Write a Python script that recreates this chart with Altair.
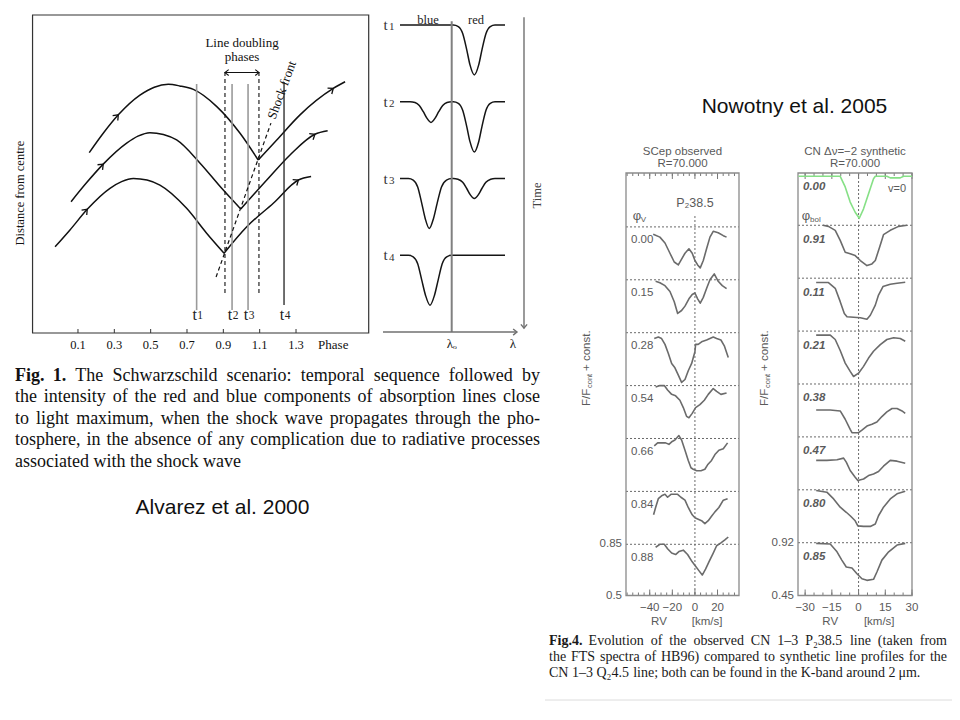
import math
import altair as alt
import pandas as pd

OFF = 8  # page margin

# ================= Alvarez et al. 2000, Fig. 1 (phase vs distance) =================
TRAJ1_ARC_PHASE = [0.162, 0.239, 0.322, 0.441, 0.520, 0.597, 0.660, 0.735, 0.864, 0.992, 1.092]
TRAJ1_ARC_DIST = [56.7, 62.8, 68.6, 74.8, 77.3, 78.2, 77.7, 76.6, 71.2, 62.8, 54.4]
TRAJ1_RISE_PHASE = [1.092, 1.194, 1.322, 1.505, 1.570]
TRAJ1_RISE_DIST = [54.4, 60.7, 68.6, 76.9, 79.0]
TRAJ2_ARC_PHASE = [0.062, 0.148, 0.239, 0.368, 0.430, 0.496, 0.570, 0.643, 0.772, 0.891, 0.996]
TRAJ2_ARC_DIST = [41.3, 47.3, 53.1, 59.7, 61.9, 63.0, 62.4, 60.7, 53.4, 45.5, 39.0]
TRAJ2_RISE_PHASE = [0.996, 1.139, 1.267, 1.404, 1.474]
TRAJ2_RISE_DIST = [39.0, 48.1, 56.0, 62.5, 63.6]
TRAJ3_ARC_PHASE = [-0.026, 0.056, 0.151, 0.276, 0.340, 0.405, 0.480, 0.551, 0.698, 0.808, 0.904]
TRAJ3_ARC_DIST = [27.1, 32.4, 38.9, 45.5, 47.6, 48.6, 48.1, 46.5, 39.2, 31.4, 25.1]
TRAJ3_RISE_PHASE = [0.904, 1.029, 1.175, 1.313, 1.383]
TRAJ3_RISE_DIST = [25.1, 33.4, 40.8, 48.1, 49.2]
ARROW_POINT_INDEX = 2      # arrow on arc at this point index
ARROW_RISE_INDEX = 3       # arrow on rise at this point index

T_PHASE = [0.753, 0.948, 1.036, 1.234]
T_NAMES = ["1", "2", "3", "4"]
T_TOP = [78.3, 78.3, 78.3, 78.9]
T_BOTTOM = [7.2, 7.2, 7.2, 8.8]
DOUBLING_PHASE = [0.909, 1.096]
DOUBLING_TOP = 82.1
DOUBLING_BOTTOM = 12.6
SHOCK_PHASE = [0.860, 1.162]
SHOCK_DIST = [17.6, 66.0]
PHASE_TICKS = [0.1, 0.3, 0.5, 0.7, 0.9, 1.1, 1.3]

# ================= line-profile sketch (wavelength offset, intensity) =================
PROFILE_START = -5.17
PROFILE_END = 5.33
LAMBDA_AXIS = [-6.87, 6.53]
T1_RED_DL = [0.16, 0.66, 1.10, 1.50, 1.83, 2.26, 2.70, 3.03, 3.43, 3.86, 4.33]
T1_RED_I = [1.00, 0.98, 0.89, 0.68, 0.48, 0.35, 0.48, 0.68, 0.89, 0.98, 1.00]
T2_BLUE_DL = [-4.17, -3.67, -3.24, -2.84, -2.50, -2.07, -1.64, -1.30, -0.90, -0.47, 0.00]
T2_BLUE_I = [1.00, 0.99, 0.95, 0.87, 0.79, 0.73, 0.79, 0.87, 0.95, 0.99, 1.00]
T2_RED_DL = [0.16, 0.66, 1.10, 1.50, 1.83, 2.26, 2.70, 3.03, 3.43, 3.86, 4.33]
T2_RED_I = [1.00, 0.98, 0.89, 0.68, 0.48, 0.345, 0.48, 0.68, 0.89, 0.98, 1.00]
T3_BLUE_DL = [-4.33, -3.85, -3.40, -3.00, -2.65, -2.24, -1.82, -1.45, -1.02, -0.52, 0.00]
T3_BLUE_I = [1.00, 0.98, 0.89, 0.68, 0.48, 0.35, 0.48, 0.68, 0.89, 0.98, 1.00]
T3_RED_DL = [0.16, 0.62, 1.10, 1.50, 1.85, 2.26, 2.67, 3.02, 3.42, 3.90, 4.33]
T3_RED_I = [1.00, 0.99, 0.95, 0.87, 0.79, 0.74, 0.79, 0.87, 0.95, 0.99, 1.00]
T4_BLUE_DL = [-4.33, -3.85, -3.40, -3.00, -2.62, -2.17, -1.72, -1.35, -0.95, -0.50, 0.00]
T4_BLUE_I = [1.00, 0.98, 0.89, 0.68, 0.48, 0.35, 0.48, 0.68, 0.89, 0.98, 1.00]

# ================= Nowotny et al. 2005, Fig. 4 =================
OBS_LABELS = ["0.00", "0.15", "0.28", "0.54", "0.66", "0.84", "0.88"]
OBS_000_RV = [-36.9, -31.0, -26.5, -22.1, -18.3, -14.7, -11.8, -8.8, -5.3, -2.4, 0.0, 2.4, 4.7, 7.4, 10.3, 13.3, 16.2, 20.6, 25.1, 28.0]
OBS_000_F = [0.80, 0.78, 0.74, 0.67, 0.61, 0.59, 0.63, 0.67, 0.70, 0.67, 0.62, 0.59, 0.57, 0.62, 0.70, 0.78, 0.82, 0.81, 0.79, 0.78]
OBS_015_RV = [-34.8, -31.0, -26.5, -22.1, -18.3, -15.3, -11.8, -8.8, -5.3, -2.4, 0.0, 2.4, 4.7, 7.4, 10.3, 13.3, 17.1, 20.6, 24.2, 28.0]
OBS_015_F = [0.84, 0.83, 0.81, 0.77, 0.70, 0.62, 0.64, 0.67, 0.72, 0.75, 0.76, 0.72, 0.69, 0.73, 0.79, 0.85, 0.89, 0.84, 0.81, 0.79]
OBS_028_RV = [-36.0, -32.4, -29.5, -26.5, -23.6, -20.6, -17.7, -14.7, -11.8, -8.8, -5.9, -2.9, 0.0, 0.6, 2.9, 6.5, 10.3, 13.3, 16.2, 19.2, 23.0, 26.0, 29.5]
OBS_028_F = [0.81, 0.82, 0.81, 0.77, 0.71, 0.64, 0.61, 0.56, 0.51, 0.53, 0.59, 0.64, 0.72, 0.77, 0.77, 0.79, 0.80, 0.81, 0.82, 0.81, 0.80, 0.76, 0.68]
OBS_054_RV = [-34.8, -31.0, -27.1, -24.2, -20.6, -17.1, -13.3, -10.3, -7.4, -5.3, -2.4, 0.6, 4.4, 8.3, 11.8, 16.2, 19.2, 23.0, 28.0]
OBS_054_F = [0.84, 0.85, 0.85, 0.82, 0.79, 0.78, 0.75, 0.70, 0.64, 0.63, 0.66, 0.70, 0.72, 0.75, 0.79, 0.83, 0.81, 0.79, 0.80]
OBS_066_RV = [-36.0, -33.0, -29.5, -26.0, -23.0, -20.1, -17.7, -14.2, -11.8, -8.8, -5.9, -3.5, -1.5, 1.5, 5.3, 8.8, 11.2, 14.7, 17.7, 21.2, 25.1, 28.9]
OBS_066_F = [0.80, 0.82, 0.82, 0.82, 0.81, 0.83, 0.84, 0.87, 0.84, 0.77, 0.70, 0.65, 0.64, 0.63, 0.63, 0.64, 0.67, 0.70, 0.74, 0.77, 0.78, 0.82]
OBS_084_RV = [-36.6, -34.8, -32.4, -29.5, -26.5, -24.2, -21.2, -18.3, -15.3, -12.4, -8.8, -5.9, -2.4, 0.0, 2.9, 5.9, 8.8, 11.8, 14.7, 17.7, 21.2, 25.1, 28.9]
OBS_084_F = [0.69, 0.74, 0.80, 0.82, 0.83, 0.81, 0.83, 0.83, 0.83, 0.81, 0.79, 0.74, 0.69, 0.67, 0.66, 0.65, 0.63, 0.65, 0.68, 0.71, 0.74, 0.79, 0.80]
OBS_088_RV = [-34.8, -31.0, -27.1, -24.2, -20.6, -17.1, -14.2, -10.3, -6.5, -2.4, 0.6, 3.5, 6.5, 9.4, 12.4, 16.2, 19.2, 23.0, 26.5, 29.5]
OBS_088_F = [0.83, 0.85, 0.85, 0.82, 0.79, 0.78, 0.80, 0.81, 0.78, 0.73, 0.70, 0.67, 0.64, 0.68, 0.73, 0.79, 0.84, 0.86, 0.88, 0.90]

SYN_LABELS = ["0.00", "0.91", "0.11", "0.21", "0.38", "0.47", "0.80", "0.85"]
SYN_000_RV = [-33.7, -24.3, -10.3, -7.5, -4.7, -1.9, 0.4, 2.8, 5.6, 8.4, 9.4, 15.9, 17.8, 23.4, 25.3, 30.0]
SYN_000_F = [0.885, 0.885, 0.885, 0.79, 0.655, 0.565, 0.511, 0.595, 0.73, 0.864, 0.885, 0.885, 0.871, 0.871, 0.885, 0.885]
SYN_091_RV = [-20.0, -16.9, -13.1, -10.3, -7.5, -4.7, -1.9, 1.0, 4.7, 7.5, 9.4, 11.8, 14.0, 17.8, 22.5, 27.2]
SYN_091_F = [0.92, 0.91, 0.875, 0.785, 0.68, 0.666, 0.65, 0.606, 0.561, 0.576, 0.606, 0.725, 0.836, 0.875, 0.91, 0.92]
SYN_011_RV = [-23.8, -16.9, -13.1, -10.3, -8.0, -6.5, -2.8, 1.0, 4.7, 6.6, 9.4, 11.2, 13.7, 17.8, 21.6, 26.2]
SYN_011_F = [0.881, 0.881, 0.83, 0.711, 0.606, 0.576, 0.572, 0.567, 0.554, 0.59, 0.68, 0.77, 0.845, 0.866, 0.875, 0.884]
SYN_021_RV = [-23.8, -15.9, -13.1, -10.3, -7.5, -4.7, -2.8, 0.0, 2.8, 5.6, 8.4, 12.2, 15.9, 19.7, 23.4, 26.2]
SYN_021_F = [0.884, 0.884, 0.845, 0.747, 0.635, 0.561, 0.516, 0.545, 0.606, 0.68, 0.74, 0.80, 0.845, 0.86, 0.854, 0.83]
SYN_038_RV = [-23.8, -15.9, -10.3, -7.5, -4.7, -3.7, -1.9, 0.0, 1.9, 4.7, 7.5, 10.3, 13.1, 15.9, 18.8, 21.6, 24.4, 26.2]
SYN_038_F = [0.689, 0.689, 0.68, 0.606, 0.516, 0.486, 0.486, 0.486, 0.509, 0.545, 0.561, 0.581, 0.63, 0.671, 0.702, 0.702, 0.68, 0.659]
SYN_047_RV = [-23.8, -17.8, -12.1, -8.4, -6.9, -4.7, -1.9, -0.4, 2.8, 5.6, 8.4, 11.2, 14.0, 17.8, 21.6, 26.2]
SYN_047_F = [0.711, 0.711, 0.716, 0.731, 0.695, 0.621, 0.561, 0.531, 0.545, 0.576, 0.59, 0.612, 0.659, 0.711, 0.704, 0.686]
SYN_080_RV = [-23.8, -17.8, -14.0, -10.3, -6.9, -4.7, -1.9, -0.4, 2.8, 6.6, 9.4, 11.2, 14.0, 17.8, 21.6, 26.2]
SYN_080_F = [0.914, 0.899, 0.839, 0.765, 0.72, 0.689, 0.644, 0.599, 0.594, 0.594, 0.615, 0.689, 0.765, 0.839, 0.884, 0.908]
SYN_085_RV = [-23.8, -15.9, -12.1, -9.4, -6.9, -3.7, -0.9, 1.9, 4.7, 8.4, 10.3, 13.1, 16.9, 21.6, 26.2]
SYN_085_F = [0.914, 0.908, 0.839, 0.765, 0.704, 0.695, 0.644, 0.599, 0.585, 0.594, 0.659, 0.765, 0.839, 0.899, 0.914]

OBS_CONT = 0.85
SYN_CONT = 0.92
OBS_MAJOR = [-40, -20, 0, 20]
OBS_MINOR = list(range(-60, 40, 5))
SYN_MAJOR = [-30, -15, 0, 15, 30]
SYN_MINOR = list(range(-30, 31, 5))

FIG1_CAPTION = [
    "Fig. 1. The Schwarzschild scenario: temporal sequence followed by",
    "the intensity of the red and blue components of absorption lines close",
    "to light maximum, when the shock wave propagates through the pho-",
    "tosphere, in the absence of any complication due to radiative processes",
    "associated with the shock wave",
]
FIG4_CAPTION = [
    "Fig.4. Evolution of the observed CN 1\u20133 P\u208238.5 line (taken from",
    "the FTS spectra of HB96) compared to synthetic line profiles for the",
    "CN 1\u20133 Q\u20824.5 line; both can be found in the K-band around 2\u2009\u03bcm.",
]

# ================= helpers =================
SERIF = "Liberation Serif"
SANS = "Liberation Sans"
GRAY = "#5a5a5a"
CHEVRON = "M-1,-0.8L0,0L-1,0.8"


def sc(domain, rng):
    return alt.Scale(domain=list(domain), range=[float(r - OFF) for r in rng], zero=False, nice=False)


PXS = sc([0, 960], [0, 960])
PYS = sc([0, 720], [0, 720])


def xy(xsc, ysc):
    return dict(x=alt.X("x:Q", scale=xsc, axis=None), y=alt.Y("y:Q", scale=ysc, axis=None))


def line_layer(df, xsc, ysc, color, width, dash=None, interp="monotone"):
    kw = dict(color=color, strokeWidth=width, interpolate=interp, strokeJoin="round")
    if dash is not None:
        kw["strokeDash"] = dash
    return alt.Chart(df).mark_line(**kw).encode(**xy(xsc, ysc), detail="g:N", order="o:Q")


def vrules(df, xsc, ysc, color, width, dash=None):
    kw = dict(color=color, strokeWidth=width)
    if dash is not None:
        kw["strokeDash"] = dash
    return alt.Chart(df).mark_rule(**kw).encode(**xy(xsc, ysc), y2="y2:Q")


def hrules(df, xsc, ysc, color, width, dash=None):
    kw = dict(color=color, strokeWidth=width)
    if dash is not None:
        kw["strokeDash"] = dash
    return alt.Chart(df).mark_rule(**kw).encode(**xy(xsc, ysc), x2="x2:Q")


def texts(df, xsc, ysc, **mk):
    base = dict(align="center", baseline="middle")
    base.update(mk)
    return alt.Chart(df).mark_text(**base).encode(**xy(xsc, ysc), text="t:N")


def arrows(df, xsc, ysc, color, size, width):
    return alt.Chart(df).mark_point(shape=CHEVRON, filled=False, color=color, size=size,
                                    strokeWidth=width, opacity=1).encode(
        **xy(xsc, ysc), angle=alt.Angle("a:Q", scale=None))


def frame(xd, yd, xsc, ysc, color, width):
    df = pd.DataFrame({"x": [xd[0]], "x2": [xd[1]], "y": [yd[0]], "y2": [yd[1]]})
    return alt.Chart(df).mark_rect(fillOpacity=0, stroke=color, strokeWidth=width).encode(
        **xy(xsc, ysc), x2="x2:Q", y2="y2:Q")


def ticks(vals, xsc, ya, yb, color, width=1.0):
    df = pd.DataFrame({"x": vals})
    return alt.Chart(df).mark_rule(color=color, strokeWidth=width).encode(
        x=alt.X("x:Q", scale=xsc, axis=None), y=alt.value(ya - OFF), y2=alt.value(yb - OFF))


def curve(xs, ys, g):
    return pd.DataFrame({"x": xs, "y": ys, "g": g, "o": list(range(len(xs)))})


TW = dict(zip("abcdefghijklmnopqrstuvwxyz",
              [444, 500, 444, 500, 444, 333, 500, 500, 278, 278, 500, 278, 778, 500, 500, 500, 500, 333, 389, 278, 500, 500, 722, 500, 500, 444]))
TW.update(dict(zip("ABCDEFGHIJKLMNOPQRSTUVWXYZ",
                   [722, 667, 667, 722, 611, 556, 722, 722, 333, 389, 722, 611, 889, 722, 722, 556, 722, 667, 556, 611, 722, 722, 944, 722, 722, 611])))
TW.update({c: 500 for c in "0123456789"})
TW.update({" ": 250, ".": 250, ",": 250, ":": 278, ";": 278, "-": 333, "(": 333, ")": 333,
           "\u2013": 500, "\u2082": 400, "\u03bc": 576, "\u2009": 170})


def word_rows(line, x0, x1, y, size, justify, nbold):
    words = line.split(" ")
    widths = [sum(TW.get(c, 500) for c in w) / 1000.0 * size for w in words]
    gap = (x1 - x0 - sum(widths)) / (len(words) - 1) if justify else 0.25 * size
    rows, x = [], x0
    for i, (w, wd) in enumerate(zip(words, widths)):
        rows.append({"t": w, "x": x, "y": y, "b": i < nbold})
        x += wd + gap
    return rows


layers = []

# ================= Fig. 1 left panel =================
XA = sc([-0.15, 1.70], [32.55, 368.7])
YA = sc([0, 100], [333, 15])
SXA, SYA = 181.7, 3.18  # pixels per unit (for arrow headings)

layers.append(frame([-0.15, 1.70], [0, 100], XA, YA, "#333", 1.2))
layers.append(ticks(PHASE_TICKS, XA, 333, 329, "#333", 1.0))

trajs = [
    (TRAJ1_ARC_PHASE, TRAJ1_ARC_DIST, TRAJ1_RISE_PHASE, TRAJ1_RISE_DIST),
    (TRAJ2_ARC_PHASE, TRAJ2_ARC_DIST, TRAJ2_RISE_PHASE, TRAJ2_RISE_DIST),
    (TRAJ3_ARC_PHASE, TRAJ3_ARC_DIST, TRAJ3_RISE_PHASE, TRAJ3_RISE_DIST),
]
tdfs, arrow_rows = [], []
for n, (ap, ad, rp, rd) in enumerate(trajs):
    tdfs.append(curve(ap, ad, f"a{n}"))
    tdfs.append(curve(rp, rd, f"r{n}"))
    for ph, dd, i in ((ap, ad, ARROW_POINT_INDEX), (rp, rd, ARROW_RISE_INDEX)):
        dx = (ph[i + 1] - ph[i - 1]) * SXA
        dy = -(dd[i + 1] - dd[i - 1]) * SYA
        ang = math.degrees(math.atan2(dy, dx)) % 360
        arrow_rows.append({"x": ph[i], "y": dd[i], "a": ang})
layers.append(line_layer(pd.concat(tdfs), XA, YA, "#111", 1.5))
layers.append(arrows(pd.DataFrame(arrow_rows), XA, YA, "#111", 80, 1.3))

tl = pd.DataFrame({"x": T_PHASE, "y": T_TOP, "y2": T_BOTTOM, "t": T_NAMES})
layers.append(vrules(tl.iloc[:3], XA, YA, "#9a9a9a", 1.6))
layers.append(vrules(tl.iloc[3:], XA, YA, "#222", 1.3))
dl = pd.DataFrame({"x": DOUBLING_PHASE, "y": [DOUBLING_TOP] * 2, "y2": [DOUBLING_BOTTOM] * 2})
layers.append(vrules(dl, XA, YA, "#111", 1.1, dash=[4, 3]))
layers.append(line_layer(curve(SHOCK_PHASE, SHOCK_DIST, "s"), XA, YA, "#111", 1.2, dash=[4, 3], interp="linear"))
dbl_y = DOUBLING_TOP - 0.2
layers.append(hrules(pd.DataFrame({"x": [DOUBLING_PHASE[0]], "x2": [DOUBLING_PHASE[1]], "y": [dbl_y]}), XA, YA, "#111", 1.1))
layers.append(arrows(pd.DataFrame({"x": DOUBLING_PHASE, "y": [dbl_y] * 2, "a": [180, 0]}), XA, YA, "#111", 55, 1.1))

tlab = pd.DataFrame({"x": T_PHASE, "y": [5.7] * 4, "t": ["t"] * 4})
layers.append(texts(tlab, XA, YA, font=SERIF, fontSize=16, color="#222", dx=-2))
layers.append(texts(tl.assign(y=5.2), XA, YA, font=SERIF, fontSize=11.5, color="#222", dx=3.5))
layers.append(texts(pd.DataFrame({"x": PHASE_TICKS, "y": [0] * 7, "t": [f"{v:.1f}" for v in PHASE_TICKS]}),
                    XA, YA, font=SERIF, fontSize=12.5, color="#111", dy=12))
layers.append(texts(pd.DataFrame({"x": [1.505], "y": [0], "t": ["Phase"]}), XA, YA, font=SERIF, fontSize=13, color="#111", dy=12))
layers.append(texts(pd.DataFrame({"x": [-0.219], "y": [44.0], "t": ["Distance from centre"]}), XA, YA,
                    font=SERIF, fontSize=12.5, color="#111", angle=270))
layers.append(texts(pd.DataFrame({"x": [1.003, 1.003], "y": [91.2, 86.8], "t": ["Line doubling", "phases"]}), XA, YA,
                    font=SERIF, fontSize=13, color="#111"))
layers.append(texts(pd.DataFrame({"x": [1.223], "y": [76.4], "t": ["Shock front"]}), XA, YA,
                    font=SERIF, fontSize=13, color="#111", angle=290))

# ================= line-profile sketch =================
XB = sc([-7, 9], [381.7, 541.7])
YB = sc([-0.2, 4], [347.4, 25])


def profile(dips, offset, g):
    xs, ys = [PROFILE_START], [1 + offset]
    for dl_, ii in dips:
        xs += dl_
        ys += [v + offset for v in ii]
    xs.append(PROFILE_END)
    ys.append(1 + offset)
    return curve(xs, ys, g)


profs = pd.concat([
    profile([(T1_RED_DL, T1_RED_I)], 3, "t1"),
    profile([(T2_BLUE_DL, T2_BLUE_I), (T2_RED_DL, T2_RED_I)], 2, "t2"),
    profile([(T3_BLUE_DL, T3_BLUE_I), (T3_RED_DL, T3_RED_I)], 1, "t3"),
    profile([(T4_BLUE_DL, T4_BLUE_I)], 0, "t4"),
])
layers.append(line_layer(profs, XB, YB, "#151515", 1.5))
layers.append(vrules(pd.DataFrame({"x": [0.0], "y": [4.05], "y2": [0.0]}), XB, YB, "#808080", 2.0))
layers.append(vrules(pd.DataFrame({"x": [7.23], "y": [4.1], "y2": [0.05]}), XB, YB, "#707070", 1.4))
# wavelength axis
lam = pd.DataFrame({"x": LAMBDA_AXIS, "y": [0.0, 0.0], "g": ["lam", "lam"], "o": [0, 1]})
layers.append(alt.Chart(lam).mark_line(color="#707070", strokeWidth=1.4).encode(
    x=alt.X("x:Q", scale=XB, axis=None), y=alt.Y("y:Q", scale=YB, axis=None), order="o:Q"))
layers.append(arrows(pd.DataFrame({"x": [7.23, LAMBDA_AXIS[1]], "y": [0.05, 0.0], "a": [90, 0]}), XB, YB, "#707070", 60, 1.4))
tb = pd.DataFrame({"x": [-6.6] * 4, "y": [4, 3, 2, 1], "t": ["t"] * 4})
layers.append(texts(tb, XB, YB, font=SERIF, fontSize=15, color="#333"))
layers.append(texts(tb.assign(t=T_NAMES, y=[3.97, 2.97, 1.97, 0.97]), XB, YB, font=SERIF, fontSize=11, color="#333", dx=6))
layers.append(texts(pd.DataFrame({"x": [-2.37, 2.43], "y": [4.07, 4.07], "t": ["blue", "red"]}), XB, YB,
                    font=SERIF, fontSize=12.5, color="#222"))
layers.append(texts(pd.DataFrame({"x": [8.53], "y": [1.78], "t": ["Time"]}), XB, YB, font=SERIF, fontSize=12.5, color="#444", angle=270))
layers.append(texts(pd.DataFrame({"x": [0.0, 6.13], "y": [0, 0], "t": ["\u03bb\u2092", "\u03bb"]}), XB, YB,
                    font=SERIF, fontSize=13, color="#222", dy=12))

# ================= Nowotny Fig. 4 panels =================
F_TOP, F_BOT = 173, 595.5
XL_D, YL_D = [-61, 39], [0.5, 3.388]
XR_D, YR_D = [-34, 30], [0.45, 4.212]
STEP_L, STEP_R = 0.3616, 0.4711
XL = sc(XL_D, [626, 739])
YL = sc(YL_D, [F_BOT, F_TOP])
XR = sc(XR_D, [798, 912])
YR = sc(YR_D, [F_BOT, F_TOP])

obs = [(OBS_000_RV, OBS_000_F), (OBS_015_RV, OBS_015_F), (OBS_028_RV, OBS_028_F), (OBS_054_RV, OBS_054_F),
       (OBS_066_RV, OBS_066_F), (OBS_084_RV, OBS_084_F), (OBS_088_RV, OBS_088_F)]
syn = [(SYN_000_RV, SYN_000_F), (SYN_091_RV, SYN_091_F), (SYN_011_RV, SYN_011_F), (SYN_021_RV, SYN_021_F),
       (SYN_038_RV, SYN_038_F), (SYN_047_RV, SYN_047_F), (SYN_080_RV, SYN_080_F), (SYN_085_RV, SYN_085_F)]

for xd, yd, xs_, ys_, cont, step, major, minor, vtop in (
        (XL_D, YL_D, XL, YL, OBS_CONT, STEP_L, OBS_MAJOR, OBS_MINOR, 3.094),
        (XR_D, YR_D, XR, YR, SYN_CONT, STEP_R, SYN_MAJOR, SYN_MINOR, YR_D[1])):
    lev = [cont + k * step for k in range(7)]
    layers.append(hrules(pd.DataFrame({"x": [xd[0]] * 7, "x2": [xd[1]] * 7, "y": lev}), xs_, ys_, "#6a6a6a", 1.0, dash=[2, 2]))
    layers.append(vrules(pd.DataFrame({"x": [0.0], "y": [vtop], "y2": [yd[0]]}), xs_, ys_, "#6a6a6a", 1.0, dash=[2, 2]))
    layers.append(ticks(major, xs_, F_BOT, F_BOT - 6, "#777"))
    layers.append(ticks(minor, xs_, F_BOT, F_BOT - 3, "#777"))
    layers.append(ticks(major, xs_, F_TOP, F_TOP + 6, "#777"))
    layers.append(ticks(minor, xs_, F_TOP, F_TOP + 3, "#777"))
    layers.append(frame(xd, yd, xs_, ys_, "#8a8a8a", 1.3))

odfs = []
for i, (rv, f) in enumerate(obs):
    k = len(obs) - 1 - i
    odfs.append(curve(rv, [v + k * STEP_L for v in f], OBS_LABELS[i]))
layers.append(line_layer(pd.concat(odfs), XL, YL, "#6b6b6b", 1.6, interp="linear"))
sdfs = []
for i, (rv, f) in enumerate(syn[1:], start=1):
    k = len(syn) - 1 - i
    sdfs.append(curve(rv, [v + k * STEP_R for v in f], SYN_LABELS[i]))
layers.append(line_layer(pd.concat(sdfs), XR, YR, "#6b6b6b", 1.6, interp="linear"))
layers.append(line_layer(curve(syn[0][0], [v + 7 * STEP_R for v in syn[0][1]], "green"), XR, YR, "#86e086", 1.6, interp="linear"))

# panel labels
olab = pd.DataFrame({"x": [XL_D[0]] * 7, "y": [OBS_CONT + (6 - i) * STEP_L for i in range(7)], "t": OBS_LABELS})
layers.append(texts(olab, XL, YL, font=SANS, fontSize=11.5, color=GRAY, align="left", dx=5, dy=13.5))
slab = pd.DataFrame({"x": [XR_D[0]] * 8, "y": [SYN_CONT + (7 - i) * STEP_R for i in range(8)], "t": SYN_LABELS})
layers.append(texts(slab, XR, YR, font=SANS, fontSize=11.5, color=GRAY, align="left", dx=5, dy=14.5,
                    fontStyle="italic", fontWeight="bold"))

for xd, yd, xs_, ys_, ylab, xt, title in (
        (XL_D, YL_D, XL, YL, ["0.85", "0.5"], OBS_MAJOR, "SCep observed"),
        (XR_D, YR_D, XR, YR, ["0.92", "0.45"], SYN_MAJOR, "CN \u0394\u03bd=\u22122 synthetic")):
    cx = (xd[0] + xd[1]) / 2
    layers.append(texts(pd.DataFrame({"x": [cx], "y": [yd[1]], "t": [title]}), xs_, ys_,
                        font=SANS, fontSize=11.5, color=GRAY, dy=-21))
    layers.append(texts(pd.DataFrame({"x": [cx], "y": [yd[1]], "t": ["R=70.000"]}), xs_, ys_,
                        font=SANS, fontSize=11.5, color=GRAY, dy=-9))
    layers.append(texts(pd.DataFrame({"x": [xd[0]] * 2, "y": [float(v) for v in ylab], "t": ylab}), xs_, ys_,
                        font=SANS, fontSize=11.5, color=GRAY, align="right", dx=-4))
    layers.append(texts(pd.DataFrame({"x": xt, "y": [yd[0]] * len(xt),
                                      "t": [("\u2212" if v < 0 else "") + str(abs(v)) for v in xt]}), xs_, ys_,
                        font=SANS, fontSize=11.5, color=GRAY, dy=12.5))

# axis titles
layers.append(texts(pd.DataFrame({"x": [-31.8, 10.7], "y": [YL_D[0]] * 2, "t": ["RV", "[km/s]"]}), XL, YL,
                    font=SANS, fontSize=11.5, color=GRAY, dy=26))
layers.append(texts(pd.DataFrame({"x": [-15.9, 11.6], "y": [YR_D[0]] * 2, "t": ["RV", "[km/s]"]}), XR, YR,
                    font=SANS, fontSize=11.5, color=GRAY, dy=26))
for px in (587, 765):
    a = pd.DataFrame({"x": [px], "y": [366], "t": ["F/F"]})
    layers.append(texts(a, PXS, PYS, font=SANS, fontSize=11.5, color=GRAY, angle=270, align="left", dx=-40))
    layers.append(texts(a.assign(t="cont"), PXS, PYS, font=SANS, fontSize=7.5, color=GRAY, angle=270, align="left", dx=-22, dy=3))
    layers.append(texts(a.assign(t="+ const."), PXS, PYS, font=SANS, fontSize=11.5, color=GRAY, angle=270, align="left", dx=-5))

# in-panel annotations
layers.append(texts(pd.DataFrame({"x": [0.0], "y": [YL_D[1]], "t": ["P\u208238.5"]}), XL, YL, font=SANS, fontSize=12.5, color=GRAY, dy=30))
layers.append(texts(pd.DataFrame({"x": [XL_D[0]], "y": [YL_D[1]], "t": ["\u03c6"]}), XL, YL, font=SANS, fontSize=13, color=GRAY, dx=11, dy=43))
layers.append(texts(pd.DataFrame({"x": [XL_D[0]], "y": [YL_D[1]], "t": ["V"]}), XL, YL, font=SANS, fontSize=8, color=GRAY, dx=17.5, dy=47))
layers.append(texts(pd.DataFrame({"x": [XR_D[0]], "y": [YR_D[1]], "t": ["\u03c6"]}), XR, YR, font=SANS, fontSize=13, color=GRAY, dx=8, dy=43))
layers.append(texts(pd.DataFrame({"x": [XR_D[0]], "y": [YR_D[1]], "t": ["bol"]}), XR, YR, font=SANS, fontSize=8, color=GRAY, align="left", dx=12, dy=47))
layers.append(texts(pd.DataFrame({"x": [XR_D[1]], "y": [YR_D[1]], "t": ["v=0"]}), XR, YR, font=SANS, fontSize=11, color=GRAY, align="right", dx=-6, dy=16))

# faint frame of the right-hand figure
layers.append(alt.Chart(pd.DataFrame({"x": [957], "y": [140], "y2": [700]})).mark_rule(color="#dcdcdc", strokeWidth=1).encode(
    x=alt.X("x:Q", scale=PXS, axis=None), y=alt.Y("y:Q", scale=PYS, axis=None), y2="y2:Q"))
layers.append(alt.Chart(pd.DataFrame({"x": [545], "x2": [957], "y": [700]})).mark_rule(color="#dcdcdc", strokeWidth=1).encode(
    x=alt.X("x:Q", scale=PXS, axis=None), x2="x2:Q", y=alt.Y("y:Q", scale=PYS, axis=None)))

# ================= captions =================
rows = []
for i, line in enumerate(FIG1_CAPTION):
    rows += word_rows(line, 15, 540, 376 + i * 21.4, 18, i < 4, 2 if i == 0 else 0)
cap1 = pd.DataFrame(rows)
layers.append(texts(cap1[~cap1.b], PXS, PYS, font=SERIF, fontSize=18, color="#111", align="left"))
layers.append(texts(cap1[cap1.b], PXS, PYS, font=SERIF, fontSize=18, color="#111", align="left", fontWeight="bold"))
rows = []
for i, line in enumerate(FIG4_CAPTION):
    rows += word_rows(line, 549, 947, 641 + i * 16, 14, i < 2, 1 if i == 0 else 0)
cap4 = pd.DataFrame(rows)
layers.append(texts(cap4[~cap4.b], PXS, PYS, font=SERIF, fontSize=14, color="#1a1a1a", align="left"))
layers.append(texts(cap4[cap4.b], PXS, PYS, font=SERIF, fontSize=14, color="#1a1a1a", align="left", fontWeight="bold"))

layers.append(texts(pd.DataFrame({"x": [222.5, 794.5], "y": [508, 107], "t": ["Alvarez et al. 2000", "Nowotny et al. 2005"]}),
                    PXS, PYS, font=SANS, fontSize=21, color="#111"))

chart = alt.layer(*layers).resolve_scale(x="independent", y="independent").properties(
    width=944, height=704, autosize=alt.AutoSizeParams(type="none"), padding=0, background="white"
).configure_view(strokeWidth=0)

chart.save("out.html", embed_options={"renderer": "svg", "actions": False})
